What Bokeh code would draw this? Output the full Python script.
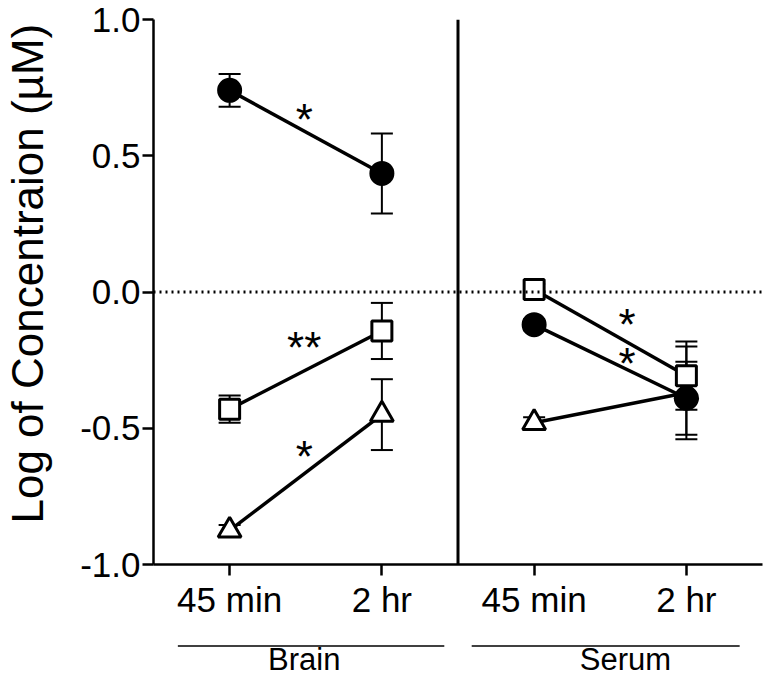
from bokeh.plotting import figure
from bokeh.models import (Range1d, FixedTicker, Span, Whisker, TeeHead,
                          ColumnDataSource, NumeralTickFormatter)
from bokeh.layouts import column
from bokeh.embed import file_html
from bokeh.resources import INLINE
from bokeh.core.properties import value

# ---------------- data ----------------
timepoints = ["45 min", "2 hr"]
tissues = ["Brain", "Serum"]
x_brain = [0, 1]
x_serum = [2, 3]

# filled circles
circle_brain = [0.74, 0.435]
circle_brain_err = [0.06, 0.147]
circle_serum = [-0.12, -0.39]
circle_serum_err = [0.02, 0.134]

# open squares
square_brain = [-0.43, -0.143]
square_brain_err = [0.05, 0.103]
square_serum = [0.009, -0.307]
square_serum_err = [0.02, 0.125]

# open triangles
triangle_brain = [-0.875, -0.45]
triangle_brain_err = [0.02, 0.13]
triangle_serum = [-0.48, -0.37]
triangle_serum_err = [0.02, 0.17]

y_ticks = [-1.0, -0.5, 0.0, 0.5, 1.0]

# significance marks
sig_x = [0.49, 0.49, 0.49, 2.61, 2.61]
sig_y = [0.656, -0.182, -0.583, -0.099, -0.242]
sig_text = ["*", "**", "*", "*", "*"]

# ---------------- styling ----------------
FONT = "Liberation Sans"
BLACK = "#000000"

p = figure(width=764, height=632,
           x_range=Range1d(-0.5, 3.5), y_range=Range1d(-1.0, 1.0),
           output_backend="svg", toolbar_location=None,
           min_border_left=142, min_border_right=2,
           min_border_top=19, min_border_bottom=68)
p.outline_line_color = None
p.grid.visible = False
p.background_fill_color = "white"
p.border_fill_color = "white"

# axes
xa = p.xaxis[0]
xa.ticker = FixedTicker(ticks=x_brain + x_serum)
xa.major_label_overrides = {x: t for x, t in zip(x_brain + x_serum, timepoints + timepoints)}
xa.axis_line_width = 2.5
xa.axis_line_color = BLACK
xa.major_tick_line_width = 2.5
xa.major_tick_line_color = BLACK
xa.major_tick_out = 11
xa.major_tick_in = 0
xa.minor_tick_line_color = None
xa.major_label_text_font = FONT
xa.major_label_text_font_size = "35px"
xa.major_label_text_color = BLACK
xa.major_label_standoff = 4

ya = p.yaxis[0]
ya.ticker = FixedTicker(ticks=y_ticks)
ya.formatter = NumeralTickFormatter(format="0.0")
ya.axis_line_width = 2.5
ya.axis_line_color = BLACK
ya.major_tick_line_width = 2.5
ya.major_tick_line_color = BLACK
ya.major_tick_out = 11
ya.major_tick_in = 0
ya.minor_tick_line_color = None
ya.major_label_text_font = FONT
ya.major_label_text_font_size = "35px"
ya.major_label_text_color = BLACK
ya.major_label_standoff = 2
ya.axis_label = "\u00a0\u00a0\u00a0Log of Concentraion (µM)"
ya.axis_label_text_font = FONT
ya.axis_label_text_font_size = "44px"
ya.axis_label_text_font_style = "normal"
ya.axis_label_text_color = BLACK
ya.axis_label_standoff = 25

# zero reference and tissue separator
p.add_layout(Span(location=0, dimension="width", line_color=BLACK,
                  line_width=3, line_dash="2 4"))
p.add_layout(Span(location=1.5, dimension="height", line_color=BLACK,
                  line_width=3))

series = [
    # marker, fill, size, brain, brain_err, serum, serum_err
    ("triangle", "white", 23, triangle_brain, triangle_brain_err, triangle_serum, triangle_serum_err),
    ("circle", BLACK, 22, circle_brain, circle_brain_err, circle_serum, circle_serum_err),
    ("square", "white", 20, square_brain, square_brain_err, square_serum, square_serum_err),
]

sources = []
for marker, fill, size, yb, eb, ys, es in series:
    for xs, ys_, es_ in ((x_brain, yb, eb), (x_serum, ys, es)):
        src = ColumnDataSource(dict(
            x=xs, y=ys_,
            upper=[v + e for v, e in zip(ys_, es_)],
            lower=[v - e for v, e in zip(ys_, es_)],
        ))
        sources.append((marker, fill, size, src))

# error bars first (beneath everything)
for marker, fill, size, src in sources:
    w = Whisker(base="x", upper="upper", lower="lower", source=src,
                dimension="height", line_color=BLACK, line_width=2,
                upper_head=TeeHead(size=22, line_width=2, line_color=BLACK),
                lower_head=TeeHead(size=22, line_width=2, line_color=BLACK))
    w.level = "underlay"
    p.add_layout(w)

# connecting lines
for marker, fill, size, src in sources:
    p.line("x", "y", source=src, line_color=BLACK, line_width=3.5)

# markers
for marker, fill, size, src in sources:
    p.scatter("x", "y", source=src, marker=marker, size=size,
              fill_color=fill, line_color=BLACK, line_width=3)

# significance asterisks
p.text(x=sig_x, y=sig_y, text=sig_text, text_font=value(FONT),
       text_font_size="44px", text_color=BLACK, text_align="center",
       text_baseline="alphabetic", y_offset=6)

# ---------------- group labels below ----------------
group_x = [0.49, 2.6]
group_line_x0 = [-0.34, 1.59]
group_line_x1 = [1.41, 3.35]

g = figure(width=764, height=48, x_range=p.x_range, y_range=Range1d(0, 1),
           output_backend="svg", toolbar_location=None,
           x_axis_location=None, y_axis_location=None,
           min_border_left=142, min_border_right=2,
           min_border_top=0, min_border_bottom=0)
g.outline_line_color = None
g.grid.visible = False
g.segment(x0=group_line_x0, x1=group_line_x1, y0=[0.72, 0.72], y1=[0.72, 0.72],
          line_color=BLACK, line_width=1.5)
g.text(x=group_x, y=[0.44, 0.44], text=tissues, text_font=value(FONT),
       text_font_size="31px", text_color=BLACK, text_align="center",
       text_baseline="alphabetic")

layout = column(p, g, spacing=0)
open("out.html", "w").write(file_html(layout, INLINE))
